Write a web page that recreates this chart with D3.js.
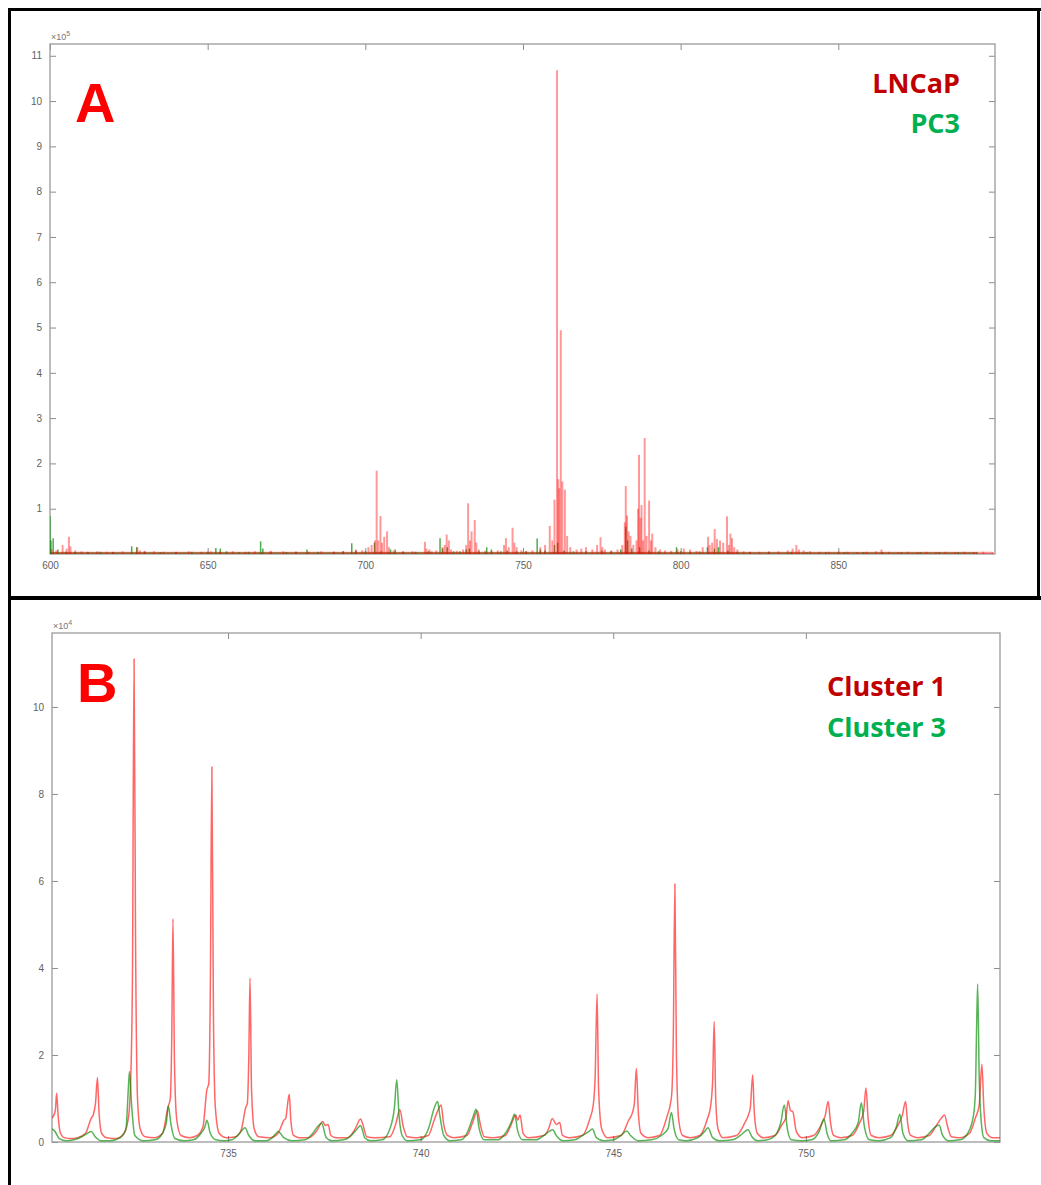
<!DOCTYPE html>
<html>
<head>
<meta charset="utf-8">
<script src="https://cdn.jsdelivr.net/npm/d3@7"></script>
<style>
  body { margin: 0; background: #fff; }
  .tick text { font-family: "Liberation Sans", Arial, sans-serif; font-size: 10px; fill: #5f5f5f; }
  .tick line { stroke: #8c8c8c; }
</style>
</head>
<body>
<svg id="chart"></svg>
<script>
// ---- panel A: whole spectrum, stems (m/z, intensity x1e5) ----
var lncapMz = [600.5,602,604,605.3,606,606.5,608,610,612,615,618,620,623,627.7,628.5,630,633,636,640,644,648,651,654,658,662,665,670,674,678,682,686,690,693,697,699,701,702,703.1,703.6,704.1,704.8,705.3,706,706.9,707.5,709,712,715,718.9,719.4,720.3,721,722.5,724.5,725.2,725.8,726.5,727.2,729,731,732,732.6,733.2,733.7,734.7,735.2,736,738,740,742,744,744.6,745.5,746.7,747.3,748,749.5,751,753,755.5,757,758.5,759.3,760,760.8,761.2,761.5,762,762.5,763.3,764,765,767,768.5,770,772,773.5,774.6,775.2,776,778,780,781.5,782.3,782.6,783,783.5,784.1,785,786,786.5,786.8,787.3,787.6,788.1,788.6,789.2,790,790.6,791,792,793.5,795,797,799,801,803,805,807,808.7,809.2,810,810.8,811.5,812.5,813.5,814.7,815.3,815.8,816.3,817,818,820,822,825,828,831,834,835.5,836.7,837.5,839,841,844,847,850,853,856,859,862,863.7,866,869,872,875,878,881,884,887,890,893,896,899];
var lncapInt = [0.1,0.08,0.2,0.12,0.38,0.17,0.08,0.06,0.05,0.06,0.05,0.05,0.06,0.15,0.08,0.07,0.06,0.05,0.05,0.06,0.05,0.06,0.05,0.06,0.05,0.06,0.07,0.06,0.05,0.05,0.06,0.05,0.06,0.1,0.08,0.15,0.2,0.3,1.84,0.3,0.84,0.25,0.38,0.5,0.15,0.08,0.06,0.06,0.27,0.12,0.1,0.06,0.08,0.15,0.2,0.43,0.3,0.1,0.07,0.1,0.2,1.12,0.3,0.5,0.75,0.25,0.1,0.07,0.06,0.08,0.2,0.35,0.15,0.58,0.25,0.15,0.08,0.06,0.08,0.15,0.2,0.62,0.3,1.2,10.68,1.65,1.45,4.94,1.6,1.42,0.4,0.15,0.1,0.12,0.15,0.1,0.2,0.37,0.15,0.1,0.08,0.1,0.2,0.7,1.5,0.85,0.5,0.4,0.2,0.3,1.0,2.19,0.8,1.08,0.3,2.56,0.4,1.18,0.3,0.45,0.15,0.1,0.08,0.07,0.1,0.12,0.1,0.07,0.15,0.38,0.2,0.25,0.55,0.33,0.3,0.25,0.83,0.2,0.45,0.35,0.15,0.1,0.06,0.05,0.05,0.06,0.06,0.08,0.12,0.2,0.1,0.08,0.06,0.05,0.05,0.05,0.05,0.04,0.05,0.06,0.1,0.05,0.04,0.05,0.04,0.05,0.04,0.05,0.04,0.05,0.04,0.05,0.04];
var pc3Mz = [600,600.3,601,602.5,605,608,612,616,620,625.9,627.5,630,635,640,645,650,652.6,654,656,660,663,666.8,667.5,670,675,678,681.5,685,690,693,695.7,697,700,702.9,705,708,709.5,712,716,720,723.7,724.5,726,728,730,732,733,736,738.5,740,743,745,748,751,754.5,755.5,757,760,761,763,766,770,775,778,781,782.6,783.2,784.5,787,790,793,798.7,800,803,806,808.5,810.7,812,815,818,822,828,835,840,846,852,858,864,870,876,882,888,894];
var pc3Int = [0.84,0.3,0.35,0.1,0.05,0.04,0.04,0.05,0.04,0.17,0.15,0.05,0.04,0.04,0.05,0.05,0.13,0.12,0.06,0.04,0.05,0.28,0.12,0.05,0.04,0.05,0.1,0.05,0.05,0.06,0.24,0.08,0.06,0.25,0.06,0.1,0.1,0.05,0.05,0.06,0.35,0.12,0.15,0.06,0.06,0.1,0.12,0.06,0.15,0.1,0.06,0.08,0.06,0.06,0.34,0.1,0.08,0.2,0.25,0.08,0.06,0.06,0.08,0.06,0.1,0.6,0.3,0.12,0.15,0.08,0.06,0.15,0.06,0.05,0.06,0.15,0.12,0.15,0.08,0.05,0.04,0.04,0.05,0.04,0.04,0.04,0.04,0.04,0.04,0.04,0.04,0.04,0.04];

// ---- panel B: zoomed profile 730.4-755 (m/z, intensity x1e4) ----
var cluster1 = [[730.43,0.55],[730.47,0.6],[730.52,0.75],[730.55,1.12],[730.59,0.6],[730.65,0.2],[730.75,0.1],[730.9,0.08],[731.1,0.1],[731.3,0.2],[731.45,0.55],[731.5,0.62],[731.56,0.9],[731.61,1.48],[731.65,0.7],[731.72,0.2],[731.85,0.1],[732.1,0.08],[732.3,0.2],[732.42,0.6],[732.48,1.64],[732.52,4],[732.56,11.1],[732.6,4.5],[732.65,1.0],[732.72,0.3],[732.85,0.12],[733.1,0.1],[733.3,0.2],[733.44,0.8],[733.5,0.99],[733.54,2.5],[733.57,5.13],[733.61,1.8],[733.67,0.5],[733.78,0.15],[734.0,0.1],[734.2,0.15],[734.35,0.35],[734.45,1.2],[734.5,1.35],[734.54,3.5],[734.58,8.62],[734.62,3],[734.67,0.8],[734.77,0.2],[734.95,0.1],[735.2,0.12],[735.35,0.3],[735.46,0.8],[735.5,0.88],[735.54,2],[735.57,3.77],[735.61,1.2],[735.68,0.3],[735.8,0.12],[736.1,0.1],[736.3,0.2],[736.45,0.5],[736.5,0.55],[736.55,0.9],[736.59,1.1],[736.63,0.5],[736.7,0.15],[736.85,0.1],[737.1,0.1],[737.3,0.25],[737.46,0.47],[737.52,0.38],[737.6,0.4],[737.67,0.15],[737.8,0.1],[738.1,0.1],[738.3,0.3],[738.44,0.53],[738.5,0.4],[738.6,0.12],[738.8,0.1],[739.2,0.12],[739.35,0.4],[739.46,0.74],[739.55,0.35],[739.65,0.12],[739.9,0.1],[740.2,0.15],[740.35,0.5],[740.46,0.75],[740.53,0.85],[740.6,0.4],[740.7,0.15],[740.85,0.1],[741.2,0.15],[741.35,0.45],[741.47,0.72],[741.55,0.4],[741.65,0.12],[741.9,0.1],[742.2,0.15],[742.35,0.4],[742.47,0.62],[742.52,0.5],[742.58,0.62],[742.66,0.2],[742.8,0.1],[743.2,0.15],[743.32,0.3],[743.42,0.54],[743.52,0.4],[743.61,0.45],[743.68,0.15],[743.85,0.1],[744.2,0.15],[744.38,0.5],[744.48,0.85],[744.53,1.5],[744.58,3.4],[744.62,1.2],[744.7,0.3],[744.85,0.1],[745.2,0.15],[745.4,0.5],[745.5,0.68],[745.55,0.9],[745.6,1.69],[745.65,0.7],[745.72,0.2],[745.9,0.1],[746.2,0.15],[746.4,0.6],[746.48,0.86],[746.52,1.12],[746.56,2.5],[746.6,5.93],[746.64,2],[746.7,0.5],[746.8,0.15],[747.0,0.1],[747.25,0.15],[747.45,0.55],[747.52,0.78],[747.58,1.4],[747.62,2.77],[747.66,1.0],[747.72,0.3],[747.85,0.1],[748.2,0.15],[748.42,0.45],[748.5,0.6],[748.56,0.8],[748.62,1.54],[748.66,0.7],[748.74,0.2],[748.9,0.1],[749.2,0.15],[749.38,0.4],[749.48,0.55],[749.54,0.95],[749.6,0.72],[749.66,0.7],[749.75,0.25],[749.9,0.1],[750.2,0.15],[750.4,0.4],[750.5,0.6],[750.58,0.93],[750.64,0.45],[750.72,0.15],[750.9,0.1],[751.2,0.15],[751.4,0.45],[751.5,0.7],[751.56,1.24],[751.62,0.5],[751.7,0.15],[751.9,0.1],[752.2,0.15],[752.4,0.4],[752.5,0.6],[752.59,0.93],[752.64,0.45],[752.72,0.15],[752.9,0.1],[753.2,0.15],[753.4,0.4],[753.52,0.55],[753.6,0.62],[753.68,0.35],[753.78,0.12],[754.0,0.1],[754.25,0.2],[754.4,0.55],[754.5,0.85],[754.57,1.79],[754.62,0.8],[754.7,0.2],[754.85,0.1],[755.04,0.1]];
var cluster3 = [[730.43,0.3],[730.5,0.25],[730.62,0.08],[730.8,0.03],[731.0,0.05],[731.2,0.12],[731.35,0.2],[731.45,0.24],[731.55,0.12],[731.7,0.03],[731.95,0.03],[732.2,0.1],[732.35,0.3],[732.41,1.2],[732.44,1.62],[732.5,0.8],[732.58,0.15],[732.8,0.03],[733.1,0.05],[733.3,0.2],[733.4,0.45],[733.45,0.83],[733.52,0.4],[733.62,0.08],[733.85,0.03],[734.1,0.05],[734.3,0.2],[734.4,0.35],[734.45,0.5],[734.54,0.2],[734.68,0.05],[734.9,0.03],[735.1,0.05],[735.3,0.2],[735.44,0.33],[735.54,0.15],[735.7,0.03],[736.0,0.03],[736.15,0.1],[736.25,0.2],[736.3,0.24],[736.45,0.1],[736.65,0.03],[737.0,0.05],[737.2,0.2],[737.35,0.38],[737.43,0.43],[737.55,0.1],[737.7,0.03],[738.0,0.05],[738.2,0.15],[738.35,0.3],[738.44,0.38],[738.55,0.1],[738.7,0.03],[739.0,0.05],[739.2,0.3],[739.32,0.8],[739.38,1.43],[739.44,0.6],[739.52,0.15],[739.65,0.03],[740.0,0.05],[740.2,0.3],[740.36,0.8],[740.44,0.93],[740.5,0.6],[740.6,0.15],[740.75,0.03],[741.05,0.05],[741.2,0.2],[741.35,0.55],[741.44,0.75],[741.52,0.3],[741.65,0.05],[742.0,0.05],[742.2,0.2],[742.35,0.45],[742.44,0.64],[742.52,0.25],[742.65,0.05],[743.0,0.05],[743.2,0.15],[743.35,0.25],[743.43,0.28],[743.52,0.15],[743.7,0.03],[744.0,0.05],[744.2,0.15],[744.38,0.25],[744.46,0.3],[744.56,0.1],[744.75,0.03],[745.0,0.05],[745.2,0.15],[745.35,0.25],[745.45,0.15],[745.65,0.03],[746.0,0.05],[746.25,0.15],[746.42,0.3],[746.51,0.68],[746.58,0.3],[746.7,0.05],[746.9,0.03],[747.2,0.1],[747.38,0.25],[747.46,0.33],[747.58,0.1],[747.75,0.03],[748.1,0.05],[748.3,0.15],[748.5,0.28],[748.6,0.12],[748.75,0.03],[749.0,0.05],[749.2,0.15],[749.35,0.45],[749.44,0.85],[749.52,0.3],[749.62,0.05],[749.9,0.03],[750.15,0.05],[750.35,0.25],[750.47,0.53],[750.55,0.2],[750.65,0.03],[751.0,0.05],[751.2,0.2],[751.36,0.45],[751.44,0.9],[751.52,0.35],[751.65,0.05],[751.9,0.03],[752.2,0.1],[752.35,0.35],[752.44,0.64],[752.52,0.2],[752.65,0.03],[753.0,0.05],[753.2,0.2],[753.36,0.35],[753.46,0.39],[753.55,0.15],[753.7,0.03],[754.0,0.05],[754.2,0.2],[754.35,0.6],[754.4,1.12],[754.43,2.5],[754.46,3.63],[754.5,1.5],[754.55,0.5],[754.62,0.1],[754.8,0.03],[755.04,0.03]];

var ticksAx = [600, 650, 700, 750, 800, 850];
var ticksAy = [1, 2, 3, 4, 5, 6, 7, 8, 9, 10, 11];
var ticksBx = [735, 740, 745, 750];
var ticksBy = [0, 2, 4, 6, 8, 10];
var labelsA = ["LNCaP", "PC3"];
var labelsB = ["Cluster 1", "Cluster 3"];

var width = 1041, height = 1185;
var darkRed = "#c00000", legendGreen = "#00b050";

var svg = d3.select("#chart")
    .attr("width", width)
    .attr("height", height);

svg.append("rect").attr("width", width).attr("height", height).attr("fill", "#fff");

// draws box, inward ticks on all four sides, exponent note
function axesBox(x, y, xt, yt, expo, id) {
    var g = svg.append("g");
    var x0 = x.range()[0], x1 = x.range()[1];
    var y0 = y.range()[0], y1 = y.range()[1];

    svg.append("clipPath").attr("id", id)
        .append("rect").attr("x", x0).attr("y", y1).attr("width", x1 - x0).attr("height", y0 - y1);

    g.append("g").attr("transform", `translate(0,${y0})`)
        .call(d3.axisBottom(x).tickValues(xt).tickSizeInner(-6).tickSizeOuter(0).tickPadding(8));
    g.append("g").attr("transform", `translate(0,${y1})`)
        .call(d3.axisTop(x).tickValues(xt).tickSizeInner(-6).tickSizeOuter(0).tickFormat(""));
    g.append("g").attr("transform", `translate(${x0},0)`)
        .call(d3.axisLeft(y).tickValues(yt).tickSizeInner(-6).tickSizeOuter(0).tickPadding(8));
    g.append("g").attr("transform", `translate(${x1},0)`)
        .call(d3.axisRight(y).tickValues(yt).tickSizeInner(-6).tickSizeOuter(0).tickFormat(""));
    g.selectAll(".domain").remove();

    g.append("rect")
        .attr("x", x0).attr("y", y1)
        .attr("width", x1 - x0).attr("height", y0 - y1)
        .attr("fill", "none").attr("stroke", "#9a9a9a").attr("stroke-width", 1.3);

    var t = g.append("text")
        .attr("x", x0 + 1).attr("y", y1 - 4)
        .attr("font-family", "Liberation Sans, Arial, sans-serif")
        .attr("font-size", 9).attr("fill", "#777");
    t.append("tspan").text("\u00d710");
    t.append("tspan").attr("dy", -4).attr("font-size", 7).text(expo);
    return g;
}

// ---------------- panel A ----------------
var xA = d3.scaleLinear().domain([600, 899.7]).range([50, 995]);
var yA = d3.scaleLinear().domain([0, 11.26]).range([554, 44]);
axesBox(xA, yA, ticksAx, ticksAy, "5", "clipA");

var plotA = svg.append("g").attr("clip-path", "url(#clipA)");

function stems(mz, vals, color, op, w, baseW) {
    plotA.append("line")
        .attr("x1", xA(d3.min(mz))).attr("x2", xA(d3.max(mz)))
        .attr("y1", yA(0) - 1).attr("y2", yA(0) - 1)
        .attr("stroke", color).attr("stroke-opacity", op).attr("stroke-width", baseW);
    plotA.append("g").selectAll("line")
        .data(mz.map(function (m, i) { return {m: m, v: vals[i]}; }))
        .enter().append("line")
        .attr("x1", function (d) { return xA(d.m); })
        .attr("x2", function (d) { return xA(d.m); })
        .attr("y1", yA(0))
        .attr("y2", function (d) { return yA(d.v); })
        .attr("stroke", color).attr("stroke-opacity", op).attr("stroke-width", w);
}
stems(pc3Mz, pc3Int, "#008a00", 0.7, 1.5, 1.5);
stems(lncapMz, lncapInt, "#ff0000", 0.4, 2, 2.5);

// ---------------- panel B ----------------
var xB = d3.scaleLinear().domain([730.43, 755.04]).range([52, 1000]);
var yB = d3.scaleLinear().domain([0, 11.7]).range([1142, 633]);
axesBox(xB, yB, ticksBx, ticksBy, "4", "clipB");

var line = d3.line()
    .x(function (d) { return xB(d[0]); })
    .y(function (d) { return yB(d[1]); })
    .curve(d3.curveMonotoneX);

var plotB = svg.append("g").attr("clip-path", "url(#clipB)");
plotB.append("path").datum(cluster1)
    .attr("d", line).attr("fill", "none")
    .attr("stroke", "#ff0000").attr("stroke-opacity", 0.6).attr("stroke-width", 1.5);
plotB.append("path").datum(cluster3)
    .attr("d", line).attr("fill", "none")
    .attr("stroke", "#008a00").attr("stroke-opacity", 0.65).attr("stroke-width", 1.5);

// ---------------- labels ----------------
function bigLetter(txt, x, y) {
    svg.append("text").attr("x", x).attr("y", y).text(txt)
        .attr("font-family", "Liberation Sans, Arial, sans-serif")
        .attr("font-weight", "bold").attr("font-size", 56).attr("fill", "#ff0000");
}
bigLetter("A", 75, 122);
bigLetter("B", 77, 702);

function legendText(txt, x, y, color) {
    svg.append("text").attr("x", x).attr("y", y).text(txt)
        .attr("text-anchor", "end")
        .attr("font-family", "Open Sans, sans-serif")
        .attr("font-weight", "bold").attr("font-size", 27).attr("fill", color);
}
legendText(labelsA[0], 960, 93, darkRed);
legendText(labelsA[1], 960, 133, legendGreen);
legendText(labelsB[0], 946, 696, darkRed);
legendText(labelsB[1], 946, 737, legendGreen);

// ---------------- panel borders ----------------
var border = svg.append("g").attr("stroke", "#000").attr("fill", "none");
border.append("line").attr("x1", 8).attr("x2", width).attr("y1", 9.5).attr("y2", 9.5).attr("stroke-width", 3);
border.append("line").attr("x1", 9.5).attr("x2", 9.5).attr("y1", 8).attr("y2", height).attr("stroke-width", 3);
border.append("line").attr("x1", 1038.5).attr("x2", 1038.5).attr("y1", 8).attr("y2", 598).attr("stroke-width", 3);
border.append("line").attr("x1", 8).attr("x2", width).attr("y1", 598).attr("y2", 598).attr("stroke-width", 4);
</script>
</body>
</html>
